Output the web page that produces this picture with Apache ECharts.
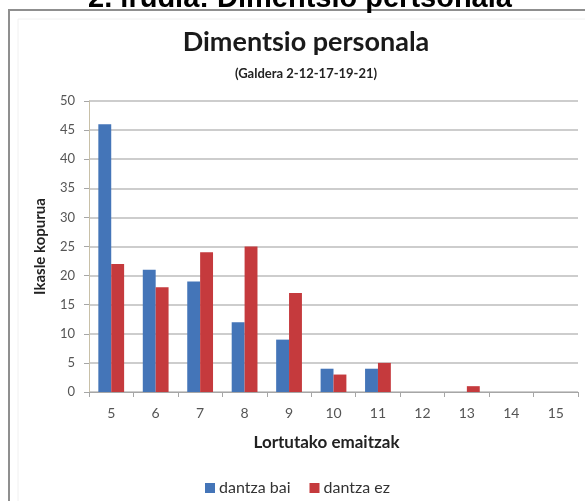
<!DOCTYPE html>
<html>
<head>
<meta charset="utf-8">
<script src="https://cdn.jsdelivr.net/npm/echarts@6/dist/echarts.min.js"></script>
<style>
  html, body { margin: 0; padding: 0; background: #fff; }
  #chart { width: 585px; height: 501px; }
</style>
</head>
<body>
<div id="chart"></div>
<script>
// Score categories on the x axis
const categories = ['5', '6', '7', '8', '9', '10', '11', '12', '13', '14', '15'];
// Number of students per score
const dantzaBai = [46, 21, 19, 12, 9, 4, 4, 0, 0, 0, 0];
const dantzaEz = [22, 18, 24, 25, 17, 3, 5, 0, 1, 0, 0];
// Value axis ticks
const yTicks = [0, 5, 10, 15, 20, 25, 30, 35, 40, 45, 50];

const FONT = 'Lato, "Noto Sans", sans-serif';
const chart = echarts.init(document.getElementById('chart'), null, { renderer: 'canvas' });

chart.setOption({
  animation: false,
  backgroundColor: '#fff',
  color: ['#4475b8', '#c53a3d'],
  graphic: [
    {
      type: 'text', x: 300, y: -16, z: 10,
      style: {
        text: '2. irudia: Dimentsio pertsonala',
        font: 'bold 29px "Liberation Sans", Arial, sans-serif',
        fill: '#000',
        align: 'center'
      }
    },
    {
      type: 'rect', z: -1, silent: true,
      shape: { x: 9, y: 10, width: 640, height: 560 },
      style: { fill: '#fff', stroke: '#8f8f8f', lineWidth: 2 }
    },
    {
      type: 'rect', z: -1, silent: true,
      shape: { x: 18, y: 19, width: 620, height: 540 },
      style: { fill: 'none', stroke: '#f0f0f0', lineWidth: 1 }
    }
  ],
  title: [
    {
      text: 'Dimentsio personala',
      left: 301, top: 24, textAlign: 'center',
      textStyle: { fontFamily: FONT, fontWeight: 'bold', fontSize: 27, color: '#1a1a1a' }
    },
    {
      text: '(Galdera 2-12-17-19-21)',
      left: 301, top: 62, textAlign: 'center',
      textStyle: { fontFamily: FONT, fontWeight: 'bold', fontSize: 13, color: '#222' }
    }
  ],
  legend: {
    top: 475, left: 200,
    itemWidth: 10, itemHeight: 10, itemGap: 19,
    icon: 'rect',
    textStyle: { fontFamily: FONT, fontSize: 16, color: '#333', padding: [0, 0, 0, -1] },
    data: ['dantza bai', 'dantza ez']
  },
  grid: { left: 89, right: 7, top: 101, bottom: 109, containLabel: false },
  xAxis: {
    type: 'category',
    data: categories,
    name: 'Lortutako emaitzak',
    nameLocation: 'middle',
    nameGap: 42,
    nameTextStyle: {
      fontFamily: FONT, fontWeight: 'bold', fontSize: 17, color: '#222',
      padding: [0, 14, 0, 0]
    },
    axisLine: { lineStyle: { color: '#a6a6a6', width: 1 } },
    axisTick: { show: true, alignWithLabel: false, length: 5, lineStyle: { color: '#a6a6a6' } },
    axisLabel: { fontFamily: FONT, fontSize: 14, color: '#555', margin: 14 }
  },
  yAxis: {
    type: 'value',
    min: 0, max: 50, interval: 5,
    name: 'Ikasle kopurua',
    nameLocation: 'middle',
    nameGap: 41,
    nameRotate: 90,
    nameTextStyle: { fontFamily: FONT, fontWeight: 'bold', fontSize: 15, color: '#222' },
    axisLine: { show: true, lineStyle: { color: '#c8c0a8', width: 1 } },
    axisTick: { show: true, length: 5, lineStyle: { color: '#a6a6a6' } },
    axisLabel: {
      fontFamily: FONT, fontSize: 13, color: '#555', margin: 14,
      formatter: v => (yTicks.indexOf(v) >= 0 ? String(v) : '')
    },
    splitLine: { show: true, lineStyle: { color: '#bdbdbd', width: 1.5 } }
  },
  series: [
    {
      name: 'dantza bai', type: 'bar', data: dantzaBai,
      barGap: '0%', barCategoryGap: '42%'
    },
    {
      name: 'dantza ez', type: 'bar', data: dantzaEz,
      barGap: '0%', barCategoryGap: '42%'
    }
  ]
});
</script>
</body>
</html>
